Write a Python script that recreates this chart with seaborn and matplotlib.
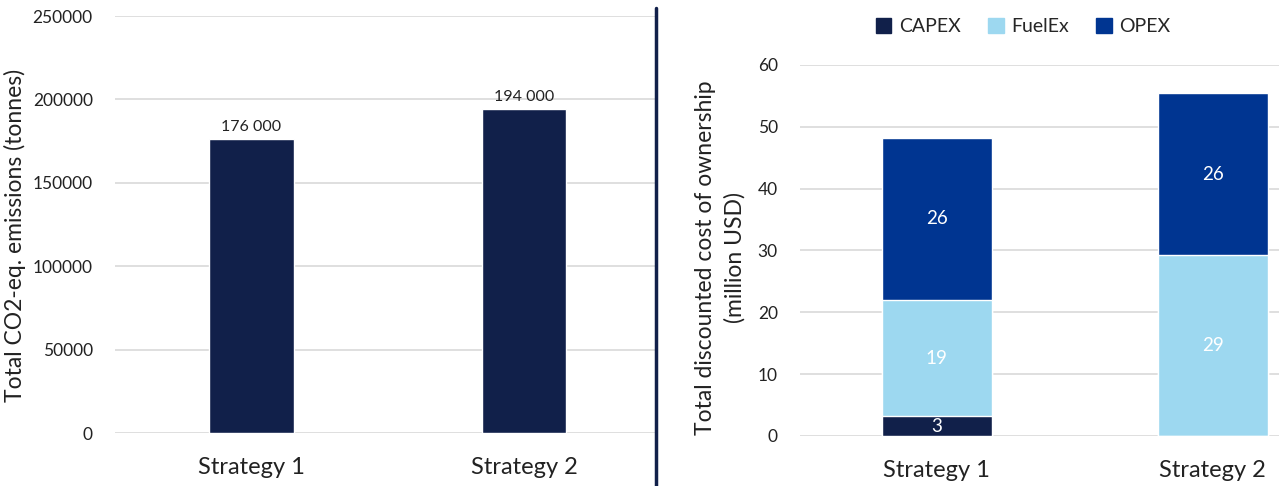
"""
Emissions and cost of ownership comparison for two strategies
"""

import numpy as np
import pandas as pd
import matplotlib
matplotlib.use('Agg')
import matplotlib.pyplot as plt
from matplotlib.patches import Patch
from matplotlib.lines import Line2D
import seaborn as sns

# Data
strategies = ['Strategy 1', 'Strategy 2']
emissions = [176000, 194000]
emission_labels = ['176 000', '194 000']

capex = [3.2, 0.0]
fuelex = [18.8, 29.3]
opex = [26.2, 26.1]
cost_labels = {'CAPEX': ['3', ''], 'FuelEx': ['19', '29'], 'OPEX': ['26', '26']}

# Colours
NAVY = '#11204a'
LIGHT = '#9dd8f0'
BLUE = '#003591'
GRID = '#d9d9d9'

sns.set_style('white')
plt.rcParams['font.family'] = ['Lato', 'DejaVu Sans']

fig = plt.figure(figsize=(12.79, 4.86), dpi=100)

# Left panel: emissions
ax1 = fig.add_axes([0.0899, 0.109, 0.4222, 0.858])
df_em = pd.DataFrame({'strategy': strategies, 'emissions': emissions})
sns.barplot(data=df_em, x='strategy', y='emissions', color=NAVY, width=0.31,
            saturation=1, ax=ax1, zorder=3)
ax1.set_ylim(0, 250000)
ax1.set_yticks(np.arange(0, 250001, 50000))
ax1.set_xlim(-0.5, 1.48)
for i, (v, lab) in enumerate(zip(emissions, emission_labels)):
    ax1.text(i, v + 3000, lab, ha='center', va='bottom', fontsize=11.5, color='#222222')
ax1.set_ylabel('Total CO2-eq. emissions (tonnes)', fontsize=16.5, color='#222222', labelpad=5)
ax1.yaxis.label.set_y(0.475)
ax1.set_xlabel('')

# Right panel: stacked cost
ax2 = fig.add_axes([0.6255, 0.1029, 0.3745, 0.7634])
df_cost = pd.DataFrame({'strategy': strategies, 'CAPEX': capex,
                        'FuelEx': fuelex, 'OPEX': opex})
df_cost['top_fuel'] = df_cost['CAPEX'] + df_cost['FuelEx']
df_cost['top_opex'] = df_cost['top_fuel'] + df_cost['OPEX']
sns.barplot(data=df_cost, x='strategy', y='top_opex', color=BLUE, width=0.4,
            saturation=1, ax=ax2, zorder=3)
sns.barplot(data=df_cost, x='strategy', y='top_fuel', color=LIGHT, width=0.4,
            saturation=1, ax=ax2, zorder=4)
sns.barplot(data=df_cost, x='strategy', y='CAPEX', color=NAVY, width=0.4,
            saturation=1, ax=ax2, zorder=5)
ax2.set_ylim(0, 60)
ax2.set_yticks(np.arange(0, 61, 10))
ax2.set_xlim(-0.496, 1.24)

for i in range(len(strategies)):
    bottoms = [0, df_cost['CAPEX'][i], df_cost['top_fuel'][i]]
    heights = [capex[i], fuelex[i], opex[i]]
    for key, b, h in zip(['CAPEX', 'FuelEx', 'OPEX'], bottoms, heights):
        lab = cost_labels[key][i]
        if lab:
            ax2.text(i, b + h / 2, lab, ha='center', va='center',
                     fontsize=13.5, color='white', zorder=6)

ax2.set_ylabel('Total discounted cost of ownership\n(million USD)', fontsize=16.5,
               color='#222222', labelpad=9, linespacing=1.45)
ax2.yaxis.label.set_y(0.48)
ax2.set_xlabel('')

handles = [Patch(color=NAVY, label='CAPEX'), Patch(color=LIGHT, label='FuelEx'),
           Patch(color=BLUE, label='OPEX')]
fig.legend(handles=handles, loc='center', bbox_to_anchor=(0.80, 0.945), ncol=3,
           frameon=False, fontsize=14, handlelength=0.8, handleheight=0.8,
           handletextpad=0.4, columnspacing=1.4)

for ax in (ax1, ax2):
    sns.despine(ax=ax, left=True, bottom=True)
    ax.yaxis.grid(True, color=GRID, linewidth=1.2, zorder=0)
    ax.set_axisbelow(True)
    ax.tick_params(axis='y', labelsize=12.5, colors='#222222', length=0, pad=16)
    ax.tick_params(axis='x', labelsize=17, colors='#222222', length=0, pad=17)

# Divider between panels
fig.add_artist(Line2D([656 / 1279, 656 / 1279], [0, 1 - 8 / 486],
                      color=NAVY, linewidth=2.5))

fig.savefig('out.png', dpi=100)
